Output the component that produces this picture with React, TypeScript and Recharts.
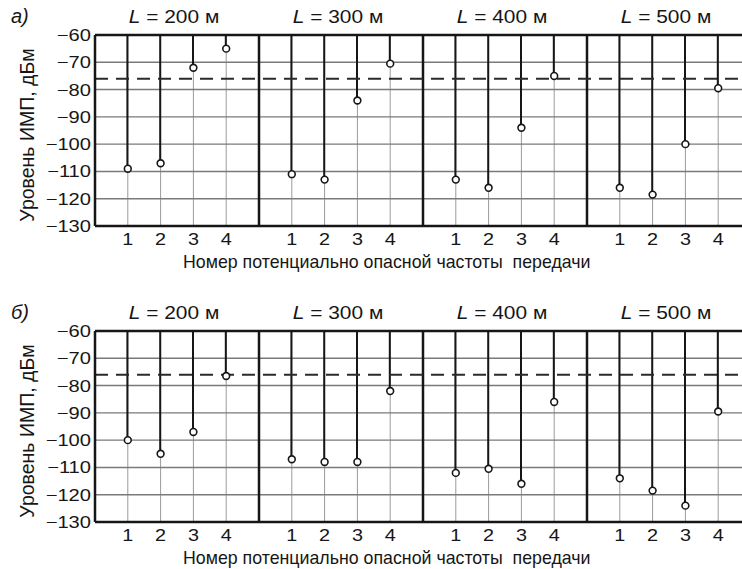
import React from 'react';
import {
  ComposedChart, Bar, Scatter, XAxis, YAxis, CartesianGrid, ReferenceLine,
} from 'recharts';

const categories = [1, 2, 3, 4];
const distances = [200, 300, 400, 500];
const yTicks = [-60, -70, -80, -90, -100, -110, -120, -130];
const threshold = -76;
const topLevel = -60;

const panelA200 = [-109, -107, -72, -65];
const panelA300 = [-111, -113, -84, -70.5];
const panelA400 = [-113, -116, -94, -75];
const panelA500 = [-116, -118.5, -100, -79.5];

const panelB200 = [-100, -105, -97, -76.5];
const panelB300 = [-107, -108, -108, -82];
const panelB400 = [-112, -110.5, -116, -86];
const panelB500 = [-114, -118.5, -124, -89.5];

const xLabel = 'Номер потенциально опасной частоты  передачи';
const yLabel = 'Уровень ИМП, дБм';

const FONT = '"Liberation Sans", Arial, sans-serif';
const INK = '#161616';

const groupSize = categories.length + 1;
const xTicks = distances.flatMap((_, k) => categories.map((c) => k * groupSize + c));
const dividers = distances.slice(1).map((_, k) => (k + 1) * groupSize);

function buildRows(groups: number[][]) {
  return groups.flatMap((vals, k) =>
    vals.map((v, i) => ({ x: k * groupSize + categories[i], v, range: [v, topLevel] })),
  );
}

const minus = (v: number) => String(v).replace('-', '\u2212');

const Dot = (props: any) => {
  const { cx, cy } = props;
  if (cx == null || cy == null) return null;
  return <circle cx={cx} cy={cy} r={3.4} fill="#fff" stroke={INK} strokeWidth={1.6} />;
};

const XTick = (props: any) => {
  const { x, y, payload } = props;
  return (
    <text
      transform={`translate(${x},${y}) scale(1.2,1)`}
      textAnchor="middle"
      dy="0.71em"
      fill={INK}
      fontSize={16.5}
      fontFamily={FONT}
    >
      {String(payload.value % groupSize)}
    </text>
  );
};

const YTick = (props: any) => {
  const { x, y, payload } = props;
  return (
    <text
      transform={`translate(${x},${y}) scale(1.22,1)`}
      textAnchor="end"
      dy="0.36em"
      fill={INK}
      fontSize={16.5}
      fontFamily={FONT}
    >
      {minus(payload.value)}
    </text>
  );
};

function Panel({ groups, top, letter }: { groups: number[][]; top: number; letter: string }) {
  const rows = buildRows(groups);
  const subWidth = 656 / distances.length;
  return (
    <div style={{ position: 'absolute', left: 0, top, width: 760, height: 275 }}>
      <ComposedChart
        width={760}
        height={250}
        data={rows}
        margin={{ top: 35, right: 9, left: 0, bottom: 0 }}
        style={{ fontFamily: FONT }}
      >
        <CartesianGrid stroke="#9a9a9a" strokeWidth={1} horizontal={false} />
        <CartesianGrid stroke="#7a7a7a" strokeWidth={1.4} vertical={false} />
        <XAxis
          type="number"
          dataKey="x"
          domain={[0, distances.length * groupSize]}
          ticks={xTicks}
          interval={0}
          height={24}
          tickSize={0}
          tickMargin={7}
          axisLine={{ stroke: INK, strokeWidth: 2.5 }}
          tick={<XTick />}
          allowDataOverflow
        />
        <YAxis
          type="number"
          domain={[-130, -60]}
          ticks={yTicks}
          interval={0}
          width={95}
          tickSize={0}
          tickMargin={4}
          axisLine={{ stroke: INK, strokeWidth: 2.5 }}
          tick={<YTick />}
          allowDataOverflow
        />
        <ReferenceLine y={topLevel} stroke={INK} strokeWidth={2.5} />
        {dividers.map((d) => (
          <ReferenceLine key={d} x={d} stroke={INK} strokeWidth={2.5} />
        ))}
        <ReferenceLine y={threshold} stroke="#2a2a2a" strokeWidth={2} strokeDasharray="13 8" />
        <Bar dataKey="range" barSize={2} fill={INK} isAnimationActive={false} />
        <Scatter dataKey="v" shape={<Dot />} isAnimationActive={false} />
      </ComposedChart>
      {distances.map((d, k) => (
        <div
          key={d}
          style={{
            position: 'absolute',
            top: 6,
            left: 95 + k * subWidth,
            width: subWidth - 6,
            textAlign: 'center',
            fontFamily: FONT,
            fontSize: 18.5,
            color: INK,
            lineHeight: '22px',
            transform: 'scaleX(1.13)',
          }}
        >
          <i>L</i> = {d} м
        </div>
      ))}
      <div
        style={{
          position: 'absolute', left: 11, top: 5, fontFamily: FONT, fontSize: 20,
          fontStyle: 'italic', color: INK, lineHeight: '22px',
        }}
      >
        {letter}
      </div>
      <div
        style={{
          position: 'absolute', left: 27 - 110, top: 135 - 12, width: 220, textAlign: 'center',
          transform: 'rotate(-90deg)', fontFamily: FONT, fontSize: 19.5, color: INK,
          lineHeight: '24px', whiteSpace: 'nowrap',
        }}
      >
        {yLabel}
      </div>
      <div
        style={{
          position: 'absolute', left: 183, top: 250, fontFamily: FONT, fontSize: 19,
          color: INK, lineHeight: '24px', whiteSpace: 'pre', transform: 'scaleX(0.935)',
          transformOrigin: 'left center',
        }}
      >
        {xLabel}
      </div>
    </div>
  );
}

export default function App() {
  return (
    <div
      style={{
        position: 'fixed', left: 0, top: 0, width: 742, height: 569,
        overflow: 'hidden', background: '#fff',
      }}
    >
      <Panel groups={[panelA200, panelA300, panelA400, panelA500]} top={0} letter="а)" />
      <Panel groups={[panelB200, panelB300, panelB400, panelB500]} top={296} letter="б)" />
    </div>
  );
}
